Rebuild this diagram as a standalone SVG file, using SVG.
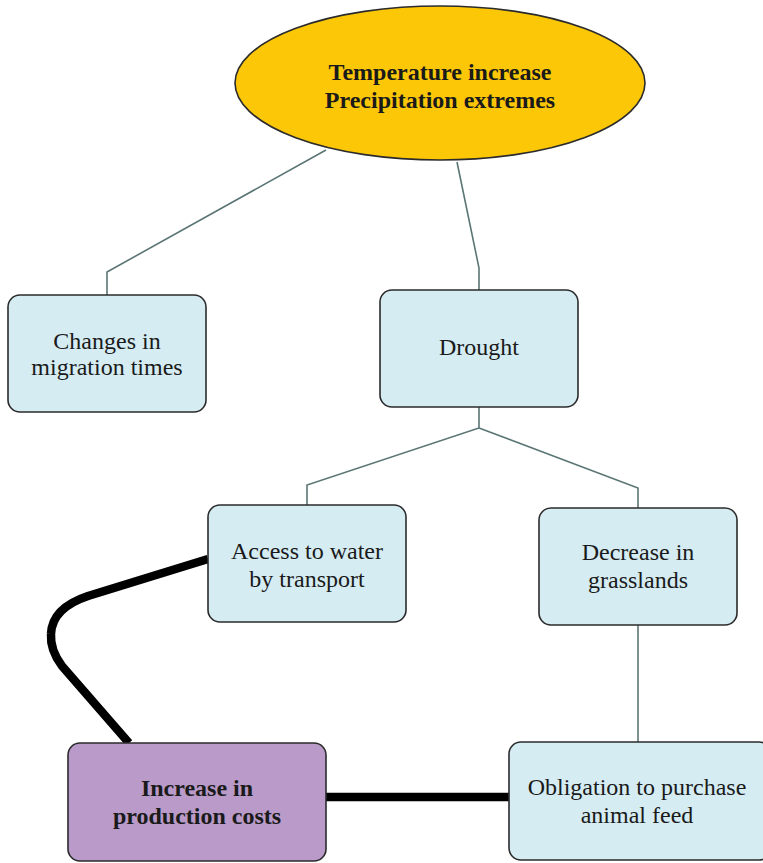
<svg xmlns="http://www.w3.org/2000/svg" width="763" height="863" viewBox="0 0 763 863">
<style>
.box{fill:#d5ecf3;stroke:#2b2b2b;stroke-width:1.6}
.t{font-family:'Liberation Serif','Times New Roman','DejaVu Serif',serif;font-size:24px;fill:#1a1a1a;text-anchor:middle}
.b{font-weight:bold}
.thin{fill:none;stroke:#5b7575;stroke-width:1.6}
.thick{fill:none;stroke:#000;stroke-width:8.5;stroke-linejoin:round}
</style>
<rect width="763" height="863" fill="#fff"/>
<g id="connectors">
<polyline class="thin" points="326,150 107,272 107,295"/>
<polyline class="thin" points="457,162 479,268 479,290"/>
<polyline class="thin" points="479,407 479,428 307,485 307,505"/>
<polyline class="thin" points="479,428 638,488 638,508"/>
<line class="thin" x1="638" y1="625" x2="638" y2="742"/>
<path class="thick" d="M208,559 L88,596 Q52,608 51,634 Q50,650 62,666 L129,743"/>
<line class="thick" x1="326" y1="797" x2="509" y2="797"/>
</g>
<g id="n0">
<ellipse cx="440" cy="83" rx="205" ry="77" fill="#fbc707" stroke="#2b2b2b" stroke-width="1.6"/>
<text class="t b" x="440" y="80" font-size="25">Temperature increase</text>
<text class="t b" x="440" y="108" font-size="25">Precipitation extremes</text>
</g>
<g id="n1">
<rect class="box" x="8" y="295" width="198" height="117" rx="12"/>
<text class="t" x="107" y="349" font-size="22">Changes in</text>
<text class="t" x="107" y="375" font-size="22">migration times</text>
</g>
<g id="n2">
<rect class="box" x="380" y="290" width="198" height="117" rx="12"/>
<text class="t" x="479" y="355">Drought</text>
</g>
<g id="n3">
<rect class="box" x="208" y="505" width="198" height="117" rx="12"/>
<text class="t" x="307" y="559">Access to water</text>
<text class="t" x="307" y="587">by transport</text>
</g>
<g id="n4">
<rect class="box" x="539" y="508" width="198" height="117" rx="12"/>
<text class="t" x="638" y="560">Decrease in</text>
<text class="t" x="638" y="588">grasslands</text>
</g>
<g id="n5">
<rect x="68" y="743" width="258" height="118" rx="12" fill="#b99ac9" stroke="#2b2b2b" stroke-width="1.6"/>
<text class="t b" x="197" y="796">Increase in</text>
<text class="t b" x="197" y="824">production costs</text>
</g>
<g id="n6">
<rect class="box" x="509" y="742" width="262" height="118" rx="12"/>
<text class="t" x="637" y="795">Obligation to purchase</text>
<text class="t" x="637" y="823">animal feed</text>
</g>
</svg>
